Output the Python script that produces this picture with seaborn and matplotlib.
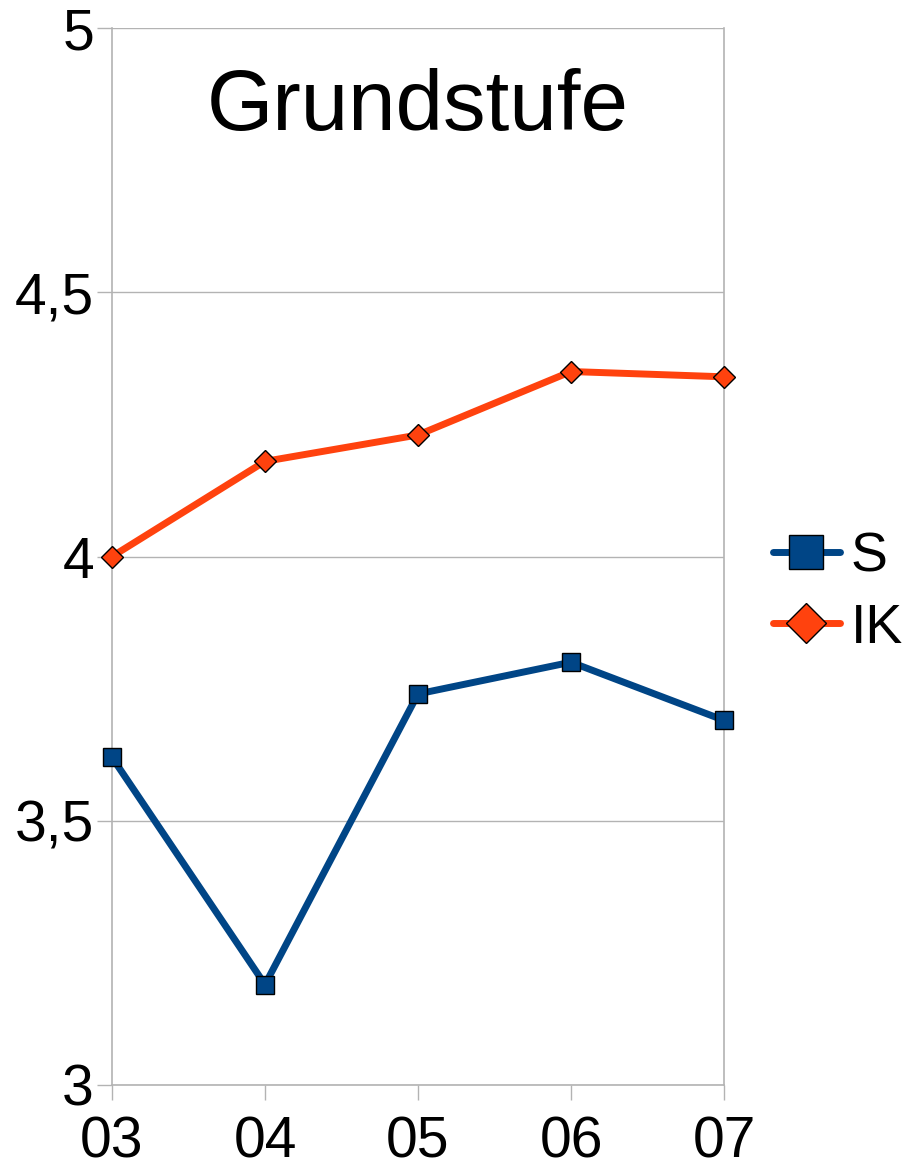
import matplotlib
matplotlib.use("Agg")
import matplotlib.pyplot as plt
import seaborn as sns
import pandas as pd

years = ["03", "04", "05", "06", "07"]
s_vals = [3.62, 3.19, 3.74, 3.80, 3.69]
ik_vals = [4.00, 4.18, 4.23, 4.35, 4.34]
yticks = [3, 3.5, 4, 4.5, 5]
ytick_labels = ["3", "3,5", "4", "4,5", "5"]

sns.set_theme(style="white")
plt.rcParams['font.family'] = ['Liberation Sans', 'DejaVu Sans']
plt.rcParams['text.color'] = 'black'

df = pd.DataFrame({
    'jahr': years * 2,
    'wert': s_vals + ik_vals,
    'reihe': ['S'] * len(years) + ['IK'] * len(years),
})

fig = plt.figure(figsize=(9.06, 11.62), dpi=100)
ax = fig.add_axes([112 / 906, 1 - 1085 / 1162, (724 - 112) / 906, (1085 - 28) / 1162])

blue = '#004586'
orange = '#ff420e'

sns.lineplot(data=df[df.reihe == 'S'], x='jahr', y='wert', ax=ax, color=blue,
             linewidth=5, marker='s', markersize=13, markeredgecolor='black',
             markeredgewidth=1, markerfacecolor=blue, label='S', sort=False,
             clip_on=False, zorder=3)
sns.lineplot(data=df[df.reihe == 'IK'], x='jahr', y='wert', ax=ax, color=orange,
             linewidth=5, marker='D', markersize=11, markeredgecolor='black',
             markeredgewidth=1, markerfacecolor=orange, label='IK', sort=False,
             clip_on=False, zorder=3)

ax.set_xlim(0, len(years) - 1)
ax.set_ylim(3, 5)
ax.set_yticks(yticks)
ax.set_yticklabels(ytick_labels)
ax.set_xlabel('')
ax.set_ylabel('')
ax.grid(axis='y', color='#b3b3b3', linewidth=1)
ax.set_axisbelow(True)
for side in ['left', 'right', 'bottom']:
    ax.spines[side].set_color('#b3b3b3')
    ax.spines[side].set_linewidth(1.2)
ax.spines['top'].set_visible(False)
ax.tick_params(axis='both', length=11, width=1, color='#b3b3b3', labelsize=41,
               labelcolor='black', left=True, bottom=True)
ax.tick_params(axis='y', pad=2)
ax.tick_params(axis='x', pad=11)

ax.text(0.5, 0.924, 'Grundstufe', transform=ax.transAxes, ha='center', va='center',
        fontsize=61.5, color='black')

leg = ax.legend(loc='center left', bbox_to_anchor=(1.08, 0.4655), frameon=False,
                fontsize=40, handlelength=1.2, markerscale=1.85, handletextpad=0.2,
                labelspacing=0.35, borderaxespad=0, borderpad=0)
for t in leg.get_texts():
    t.set_color('black')

fig.savefig('out.png', dpi=100)
